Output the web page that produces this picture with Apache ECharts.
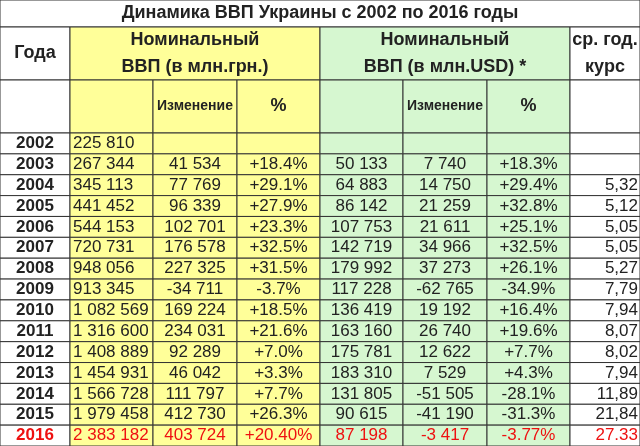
<!DOCTYPE html>
<html><head><meta charset="utf-8">
<script src="https://cdn.jsdelivr.net/npm/echarts@6/dist/echarts.min.js"></script>
<style>html,body{margin:0;padding:0;background:#fff}#c{width:640px;height:446px}</style>
</head><body><div id="c"></div>
<script>
const title = 'Динамика ВВП Украины с 2002 по 2016 годы';
const years = ['2002','2003','2004','2005','2006','2007','2008','2009','2010','2011','2012','2013','2014','2015','2016'];
const gdpUah = ['225 810','267 344','345 113','441 452','544 153','720 731','948 056','913 345','1 082 569','1 316 600','1 408 889','1 454 931','1 566 728','1 979 458','2 383 182'];
const chgUah = ['','41 534','77 769','96 339','102 701','176 578','227 325','-34 711','169 224','234 031','92 289','46 042','111 797','412 730','403 724'];
const pctUah = ['','+18.4%','+29.1%','+27.9%','+23.3%','+32.5%','+31.5%','-3.7%','+18.5%','+21.6%','+7.0%','+3.3%','+7.7%','+26.3%','+20.40%'];
const gdpUsd = ['','50 133','64 883','86 142','107 753','142 719','179 992','117 228','136 419','163 160','175 781','183 310','131 805','90 615','87 198'];
const chgUsd = ['','7 740','14 750','21 259','21 611','34 966','37 273','-62 765','19 192','26 740','12 622','7 529','-51 505','-41 190','-3 417'];
const pctUsd = ['','+18.3%','+29.4%','+32.8%','+25.1%','+32.5%','+26.1%','-34.9%','+16.4%','+19.6%','+7.7%','+4.3%','-28.1%','-31.3%','-3.77%'];
const rate = ['','','5,32','5,12','5,05','5,05','5,27','7,79','7,94','8,07','8,02','7,94','11,89','21,84','27.33'];

// layout
const colX = [0,70,153,237,320,403,487,570,640];
const rowY0 = 133, rowH = (446-133)/15;
const YEL = '#ffff99', GRN = '#d6f7d0', WH = '#ffffff';
const FONT = '"Liberation Sans Narrow", "Arial Narrow", "Liberation Sans", Arial, sans-serif';
const cells = [];
function cell(x0,x1,y0,y1,text,bg,o){o=o||{};cells.push([x0,x1,y0,y1,text,bg,o.color||'#222',o.bold?1:0,o.align||'center',o.size||17]);}
cell(0,640,0,27,title,WH,{bold:1,size:18});
cell(0,70,27,80,'Года',WH,{bold:1,size:18});
cell(70,320,27,80,'Номинальный\nВВП (в млн.грн.)',YEL,{bold:1,size:18});
cell(320,570,27,80,'Номинальный\nВВП (в млн.USD) *',GRN,{bold:1,size:18});
cell(570,640,27,80,'ср. год.\nкурс',WH,{bold:1,size:18});
cell(0,70,80,133,'',WH);
const sub=['','Изменение','%','','Изменение','%'];
for(let i=0;i<6;i++) cell(colX[i+1],colX[i+2],80,133,sub[i],i<3?YEL:GRN,{bold:1,size:i%3==1?14:18});
cell(570,640,80,133,'',WH);
const cols=[gdpUah,chgUah,pctUah,gdpUsd,chgUsd,pctUsd,rate];
years.forEach((y,r)=>{
  const y0=rowY0+r*rowH,y1=y0+rowH,last=r===years.length-1;
  const col=last?'#ee1111':'#222';
  cell(0,70,y0,y1,y,WH,{bold:1,color:col});
  cols.forEach((arr,i)=>{
    cell(colX[i+1],colX[i+2],y0,y1,arr[r],i<3?YEL:(i<6?GRN:WH),{color:col,align:i===0?'left':(i===6?'right':'center')});
  });
});
const ch=echarts.init(document.getElementById('c'));
ch.setOption({
  animation:false,
  grid:{left:0,right:0,top:0,bottom:0},
  xAxis:{type:'value',min:0,max:640,show:false},
  yAxis:{type:'value',min:0,max:446,inverse:true,show:false},
  series:[{type:'custom',data:cells,renderItem:(p,api)=>{
    const a=api.coord([api.value(0),api.value(2)]),b=api.coord([api.value(1),api.value(3)]);
    const d=cells[p.dataIndex];
    const x0=a[0],y0=a[1],w=b[0]-a[0],h=b[1]-a[1];
    const align=d[8];
    const tx=align==='left'?x0+3:(align==='right'?x0+w-2:x0+w/2);
    return {type:'group',children:[
      {type:'rect',shape:{x:x0,y:y0,width:w,height:h},style:{fill:d[5],stroke:'#333',lineWidth:1}},
      {type:'text',style:{x:tx,y:y0+h/2,text:d[4],fill:d[6],font:(d[7]?'bold ':'')+d[9]+'px '+FONT,align:align,verticalAlign:'middle',lineHeight:d[9]*1.45}}
    ]};
  }}]
});
</script></body></html>
